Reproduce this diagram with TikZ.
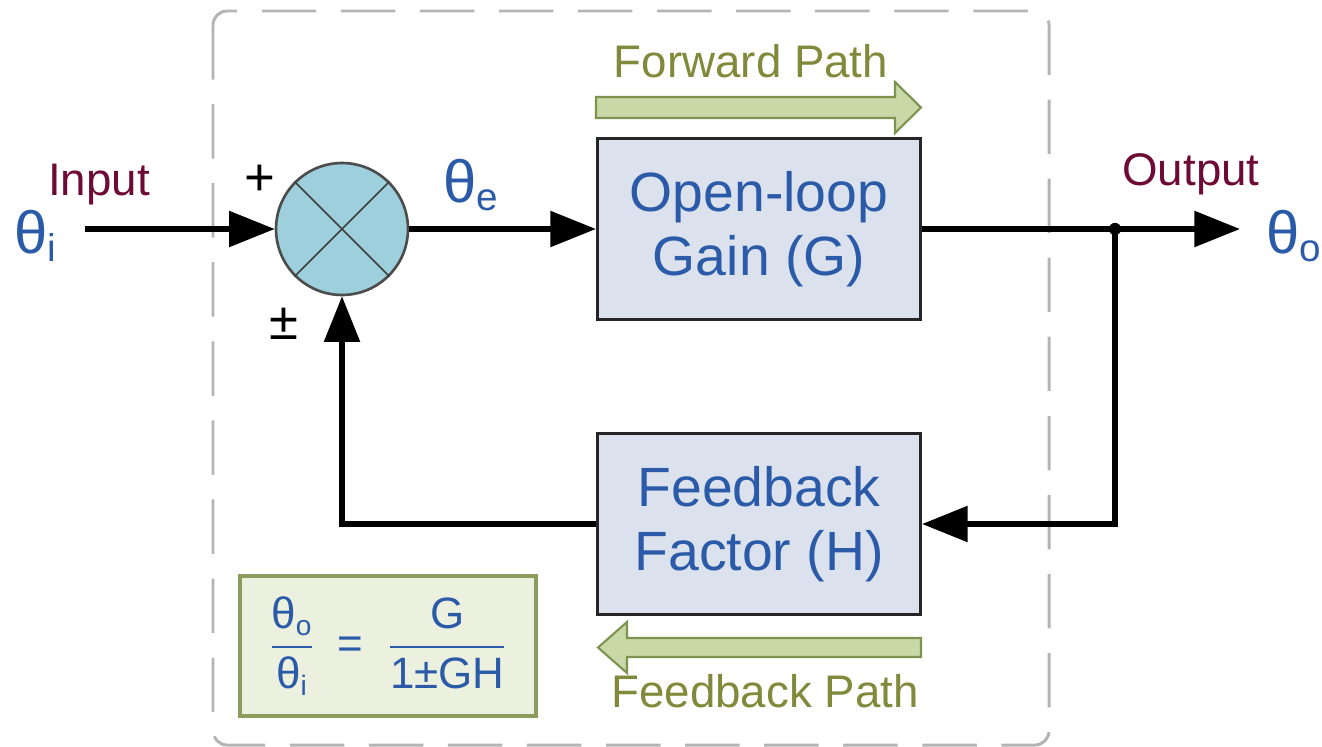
\documentclass[tikz,border=0pt]{standalone}
\usepackage{amsmath}
\usepackage{fontspec}
\setmainfont{Liberation Sans}
\usepackage{tikz}
\usetikzlibrary{positioning,arrows.meta}

\definecolor{sumblue}{HTML}{9DCFDC}
\definecolor{boxgray}{HTML}{DBE2ED}
\definecolor{textblue}{HTML}{2B5BA8}
\definecolor{pathgreen}{HTML}{C8D8A6}
\definecolor{pathedge}{HTML}{7F9350}
\definecolor{pathtext}{HTML}{808A3A}
\definecolor{eqfill}{HTML}{EBF1DE}
\definecolor{eqedge}{HTML}{8C9C5C}
\definecolor{labelred}{HTML}{6E0A36}
\definecolor{framegray}{HTML}{B4B4B4}

% theta with a lowered index, large and small
\newcommand{\thbig}[1]{{\fontsize{34}{40}\selectfont θ}\raisebox{-5pt}{\fontsize{22}{26}\selectfont #1}}
\newcommand{\thsmall}[1]{{\fontsize{25}{30}\selectfont θ}\raisebox{-4pt}{\fontsize{16}{20}\selectfont #1}}

\begin{document}
\begin{tikzpicture}[x=0.02cm,y=-0.02cm,
    arr/.style={-{Triangle[length=26pt,width=20pt]},line width=3pt,black},
    wire/.style={line width=3pt,black},
    block/.style={draw=black!85,line width=1.8pt,fill=boxgray,minimum width=6.46cm,
        minimum height=3.62cm,text=textblue,align=center,
        font=\fontsize{31.5}{36.4}\selectfont},
    sumnode/.style={circle,draw=black!70,line width=1.5pt,fill=sumblue,
        minimum size=2.64cm,inner sep=0pt},
    fatpath/.style={fill=pathgreen,draw=pathedge,line width=1.2pt},
    label/.style={font=\fontsize{26}{30}\selectfont},
    sign/.style={font=\fontsize{30}{34}\selectfont,text=black}]
    \useasboundingbox (0,0) rectangle (1322,747);
    %%%%% THE FRAME
    \draw[framegray,line width=1.7pt,dash pattern=on 31pt off 14pt,rounded corners=8pt]
      (213,11) rectangle (1049,745);
    %%%%% THE BLOCKS
    \node[sumnode] (sum) at (342,229) {};
    \draw[black!75,line width=1pt] (sum.45) -- (sum.225) (sum.135) -- (sum.315);
    \node[block] (fwd) at (759,229) {Open-loop\\Gain (G)};
    \node[block] (fbk) at (759,524) {Feedback\\Factor (H)};
    %%%%% THE SIGNALS
    \coordinate (in) at (85,229);
    \coordinate (out) at (1240,229);
    \coordinate (split) at (1115,229);
    \draw[arr] (in) -- (sum.west);
    \draw[arr] (sum.east) -- (fwd.west);
    \draw[arr] (fwd.east) -- (out);
    \draw[arr] (split) |- (fbk.east);
    \draw[arr] (fbk.west) -| (sum.south);
    \fill (split) circle (3.5pt);
    % Labels on the signals
    \node[label,text=labelred,anchor=base] (inlabel) at (99,195) {Input};
    \node[label,text=labelred,anchor=base] (outlabel) at (1191,185) {Output};
    \node[text=textblue,anchor=base west,inner sep=0pt] (thi) at (14,253) {\thbig{i}};
    \node[text=textblue,anchor=base west,inner sep=0pt] (the) at (443,202) {\thbig{e}};
    \node[text=textblue,anchor=base west,inner sep=0pt] (tho) at (1266,253) {\thbig{o}};
    \node[sign] (plus) at (260,180) {+};
    \node[sign] (pm) at (284,324) {±};
    %%%%% THE PATH ARROWS
    \filldraw[fatpath] (596,97) -- (895,97) -- (895,82) -- (921,107.5)
      -- (895,133) -- (895,118) -- (596,118) -- cycle;
    \node[label,text=pathtext,anchor=base] (fwdtext) at (751,77) {Forward Path};
    \filldraw[fatpath] (921,638) -- (627,638) -- (627,622) -- (598,647.5)
      -- (627,673) -- (627,657) -- (921,657) -- cycle;
    \node[label,text=pathtext,anchor=base] (fbktext) at (765,707) {Feedback Path};
    %%%%% THE EQUATION
    \node[draw=eqedge,line width=1.9pt,fill=eqfill,minimum width=5.92cm,minimum height=2.8cm]
      (eqbox) at (388,646) {};
    \node[text=textblue,font=\fontsize{25}{30}\selectfont] (eq) at (eqbox.center)
      {$\dfrac{\text{\thsmall{o}}}{\text{\thsmall{i}}}\;\;\text{=}\;\;\dfrac{\text{G}}{\text{1±GH}}$};
  \end{tikzpicture}
\end{document}
